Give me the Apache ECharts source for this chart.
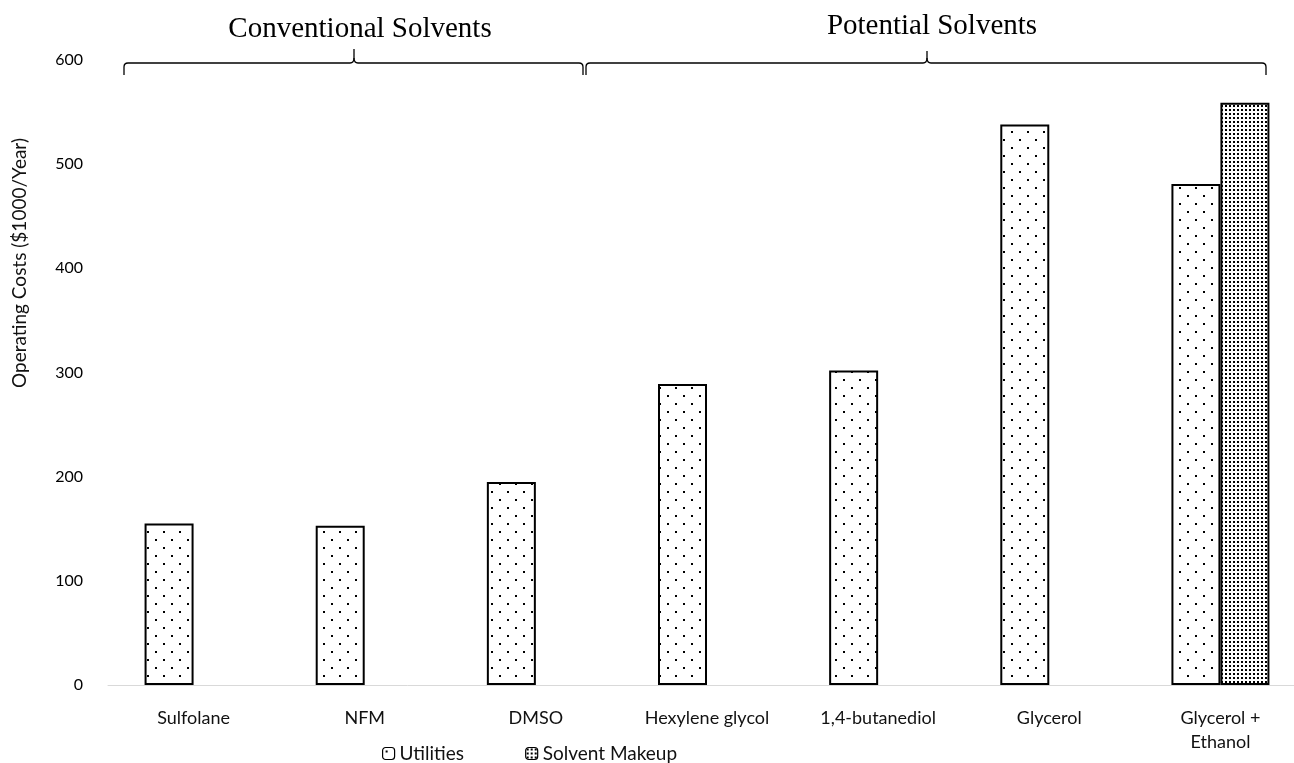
<!DOCTYPE html>
<html>
<head>
<meta charset="utf-8">
<script src="https://cdn.jsdelivr.net/npm/echarts@6/dist/echarts.min.js"></script>
<style>
  html, body { margin: 0; padding: 0; background: #fff; overflow: hidden; }
  /* plot runs slightly past the right window edge, as the axis does */
  #chart { width: 1306px; height: 763px; }
</style>
</head>
<body>
<div id="chart"></div>
<script>
// Solvent categories along the x axis
const categories = ['Sulfolane', 'NFM', 'DMSO', 'Hexylene glycol', '1,4-butanediol', 'Glycerol', 'Glycerol +\nEthanol'];
// Operating costs, $1000/Year
const utilities = [155, 153, 195, 289, 302, 538, 481];
const solventMakeup = [0, 0, 0, 0, 0, 0, 559];
const seriesNames = ['Utilities', 'Solvent Makeup'];
const yTicks = { min: 0, max: 600, interval: 100 };
const groupTitles = ['Conventional Solvents', 'Potential Solvents'];
const yAxisTitle = 'Operating Costs ($1000/Year)';

// Dotted fill patterns drawn on small tiles
function makeTile(size, dots, dot) {
  const c = document.createElement('canvas');
  c.width = size; c.height = size;
  const g = c.getContext('2d');
  g.fillStyle = '#fff';
  g.fillRect(0, 0, size, size);
  g.fillStyle = '#000';
  dots.forEach(([x, y]) => g.fillRect(x, y, dot, dot));
  return c;
}
const sparseDots = makeTile(16, [[3, 3], [11, 11]], 2);
const denseDots = makeTile(4, [[1, 1]], 2);

// Curly brace built from straight segments and quadratic curves:
// both ends hook down, the centre cusp points up
function brace(x1, x2, xm, y, depth, peak) {
  const r = 4;
  const st = { stroke: '#000', lineWidth: 1.3, fill: null };
  const line = (a, b, c, d) => ({ type: 'line', shape: { x1: a, y1: b, x2: c, y2: d }, style: st });
  const curve = (a, b, cx, cy, c, d) => ({ type: 'bezierCurve', shape: { x1: a, y1: b, cpx1: cx, cpy1: cy, x2: c, y2: d }, style: st });
  return {
    type: 'group',
    children: [
      line(x1, y + depth, x1, y + r),
      curve(x1, y + r, x1, y, x1 + r, y),
      line(x1 + r, y, xm - 4, y),
      curve(xm - 4, y, xm, y, xm, y - 5),
      line(xm, y - 5, xm, y - peak),
      curve(xm, y - 5, xm, y, xm + 4, y),
      line(xm + 4, y, x2 - r, y),
      curve(x2 - r, y, x2, y, x2, y + r),
      line(x2, y + r, x2, y + depth)
    ]
  };
}

const labelFont = 'Lato, "Open Sans", sans-serif';
const titleFont = '"Liberation Serif", "DejaVu Serif", serif';

const chart = echarts.init(document.getElementById('chart'), null, { renderer: 'canvas' });

chart.setOption({
  animation: false,
  backgroundColor: '#fff',
  grid: { left: 108, top: 60, right: 0, bottom: 78, containLabel: false },
  legend: {
    data: seriesNames,
    left: 377,
    top: 739,
    itemWidth: 12,
    itemHeight: 12,
    itemGap: 61,
    itemStyle: { borderColor: '#000', borderWidth: 1.2 },
    textStyle: { fontFamily: labelFont, fontSize: 19, color: '#111' }
  },
  xAxis: {
    type: 'category',
    data: categories,
    axisLine: { lineStyle: { color: '#d9d9d9', width: 1 } },
    axisTick: { show: false },
    axisLabel: {
      fontFamily: labelFont, fontSize: 18, color: '#111',
      margin: 21, lineHeight: 24, interval: 0
    }
  },
  yAxis: {
    type: 'value',
    min: yTicks.min, max: yTicks.max, interval: yTicks.interval,
    axisLine: { show: false },
    axisTick: { show: false },
    splitLine: { show: false },
    axisLabel: { fontFamily: labelFont, fontSize: 16, color: '#000', margin: 25 }
  },
  series: [
    {
      name: seriesNames[0],
      type: 'bar',
      data: utilities.map(v => v === 0 ? null : v),
      barWidth: 49,
      barGap: '0%',
      itemStyle: { color: { image: sparseDots, repeat: 'repeat' }, borderColor: '#000', borderWidth: 2 }
    },
    {
      name: seriesNames[1],
      type: 'bar',
      data: solventMakeup.map(v => v === 0 ? null : v),
      barWidth: 49,
      barGap: '0%',
      itemStyle: { color: { image: denseDots, repeat: 'repeat' }, borderColor: '#000', borderWidth: 2 }
    }
  ],
  graphic: [
    {
      type: 'text', x: 20, y: 263, rotation: Math.PI / 2,
      style: {
        text: yAxisTitle, fontFamily: labelFont, fontSize: 19, fill: '#111',
        align: 'center', verticalAlign: 'middle'
      }
    },
    brace(124, 583, 354, 63, 12, 14),
    brace(586, 1266, 927, 63, 12, 12),
    {
      type: 'text', x: 360, y: 29,
      style: { text: groupTitles[0], fontFamily: titleFont, fontSize: 29, fill: '#000', align: 'center', verticalAlign: 'middle' }
    },
    {
      type: 'text', x: 932, y: 26,
      style: { text: groupTitles[1], fontFamily: titleFont, fontSize: 29, fill: '#000', align: 'center', verticalAlign: 'middle' }
    }
  ]
});
</script>
</body>
</html>
